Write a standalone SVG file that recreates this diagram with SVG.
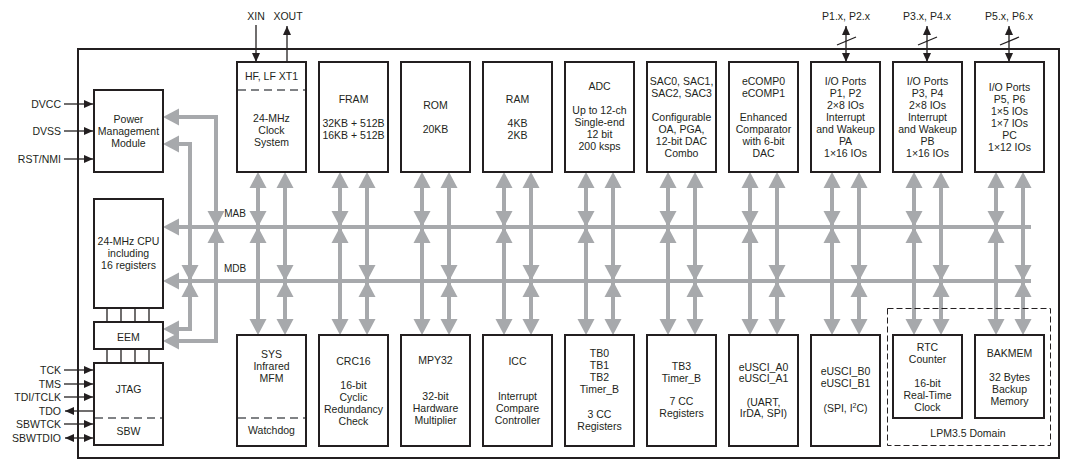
<svg xmlns="http://www.w3.org/2000/svg" xmlns:xlink="http://www.w3.org/1999/xlink" width="1071" height="468" viewBox="0 0 1071 468">
<style>
text{font-family:"Liberation Sans",Arial,sans-serif;font-size:10.5px;fill:#231f20;text-anchor:middle}
.lbl{text-anchor:end}
.box{fill:#fff;stroke:#231f20;stroke-width:2}
.gl{stroke:#a7a9ac;stroke-width:4;fill:none}
.ga{fill:#a7a9ac}
.bl{stroke:#231f20;stroke-width:1.3;fill:none}
.dash{stroke:#808285;stroke-width:2;stroke-dasharray:8 5;fill:none}
</style>
<defs>
<marker id="ab" viewBox="0 0 9 8" refX="9" refY="4" markerWidth="9" markerHeight="8" markerUnits="userSpaceOnUse" orient="auto-start-reverse"><path d="M0,0 L9,4 L0,8 z" fill="#231f20"/></marker>
<path id="u" class="ga" d="M0,0 L8.5,16 L-8.5,16 Z"/>
<path id="d" class="ga" d="M0,0 L8.5,-16 L-8.5,-16 Z"/>
<path id="l" class="ga" d="M0,0 L16,-8.5 L16,8.5 Z"/>
</defs>
<rect x="0" y="0" width="1071" height="468" fill="#fff"/>
<rect x="78" y="49" width="981" height="409" fill="none" stroke="#231f20" stroke-width="2"/>

<g id="connectors">
<!-- buses -->
<line class="gl" x1="175" y1="227" x2="1031" y2="227"/>
<line class="gl" x1="175" y1="281" x2="1031" y2="281"/>
<use href="#l" x="163" y="227"/>
<use href="#l" x="163" y="281"/>
<text x="235" y="217" style="font-size:10px">MAB</text>
<text x="235" y="272" style="font-size:10px">MDB</text>
<!-- left links -->
<path class="gl" d="M177,117 H216 V341 H177"/>
<path class="gl" d="M177,144 H190 V329 H177"/>
<use href="#l" x="163" y="117"/><use href="#l" x="163" y="144"/>
<use href="#l" x="163" y="329"/><use href="#l" x="163" y="341"/>
<use href="#d" x="216" y="227"/><use href="#u" x="216" y="227"/>
<use href="#d" x="190" y="281"/><use href="#u" x="190" y="281"/>
<!-- column verticals -->
<g class="gl">
<line x1="258" y1="180" x2="258" y2="327"/><line x1="285" y1="180" x2="285" y2="327"/>
<line x1="340" y1="180" x2="340" y2="327"/><line x1="367" y1="180" x2="367" y2="327"/>
<line x1="422" y1="180" x2="422" y2="327"/><line x1="449" y1="180" x2="449" y2="327"/>
<line x1="504" y1="180" x2="504" y2="327"/><line x1="531" y1="180" x2="531" y2="327"/>
<line x1="586" y1="180" x2="586" y2="327"/><line x1="613" y1="180" x2="613" y2="327"/>
<line x1="668" y1="180" x2="668" y2="327"/><line x1="695" y1="180" x2="695" y2="327"/>
<line x1="750" y1="180" x2="750" y2="327"/><line x1="777" y1="180" x2="777" y2="327"/>
<line x1="832" y1="180" x2="832" y2="327"/><line x1="859" y1="180" x2="859" y2="327"/>
<line x1="914" y1="180" x2="914" y2="327"/><line x1="941" y1="180" x2="941" y2="327"/>
<line x1="996" y1="180" x2="996" y2="327"/><line x1="1023" y1="180" x2="1023" y2="327"/>
</g>
<use href="#u" x="258" y="172"/><use href="#d" x="258" y="227"/><use href="#u" x="258" y="227"/><use href="#d" x="258" y="335"/>
<use href="#u" x="285" y="172"/><use href="#d" x="285" y="281"/><use href="#u" x="285" y="281"/><use href="#d" x="285" y="335"/>
<use href="#u" x="340" y="172"/><use href="#d" x="340" y="227"/><use href="#u" x="340" y="227"/><use href="#d" x="340" y="335"/>
<use href="#u" x="367" y="172"/><use href="#d" x="367" y="281"/><use href="#u" x="367" y="281"/><use href="#d" x="367" y="335"/>
<use href="#u" x="422" y="172"/><use href="#d" x="422" y="227"/><use href="#u" x="422" y="227"/><use href="#d" x="422" y="335"/>
<use href="#u" x="449" y="172"/><use href="#d" x="449" y="281"/><use href="#u" x="449" y="281"/><use href="#d" x="449" y="335"/>
<use href="#u" x="504" y="172"/><use href="#d" x="504" y="227"/><use href="#u" x="504" y="227"/><use href="#d" x="504" y="335"/>
<use href="#u" x="531" y="172"/><use href="#d" x="531" y="281"/><use href="#u" x="531" y="281"/><use href="#d" x="531" y="335"/>
<use href="#u" x="586" y="172"/><use href="#d" x="586" y="227"/><use href="#u" x="586" y="227"/><use href="#d" x="586" y="335"/>
<use href="#u" x="613" y="172"/><use href="#d" x="613" y="281"/><use href="#u" x="613" y="281"/><use href="#d" x="613" y="335"/>
<use href="#u" x="668" y="172"/><use href="#d" x="668" y="227"/><use href="#u" x="668" y="227"/><use href="#d" x="668" y="335"/>
<use href="#u" x="695" y="172"/><use href="#d" x="695" y="281"/><use href="#u" x="695" y="281"/><use href="#d" x="695" y="335"/>
<use href="#u" x="750" y="172"/><use href="#d" x="750" y="227"/><use href="#u" x="750" y="227"/><use href="#d" x="750" y="335"/>
<use href="#u" x="777" y="172"/><use href="#d" x="777" y="281"/><use href="#u" x="777" y="281"/><use href="#d" x="777" y="335"/>
<use href="#u" x="832" y="172"/><use href="#d" x="832" y="227"/><use href="#u" x="832" y="227"/><use href="#d" x="832" y="335"/>
<use href="#u" x="859" y="172"/><use href="#d" x="859" y="281"/><use href="#u" x="859" y="281"/><use href="#d" x="859" y="335"/>
<use href="#u" x="914" y="172"/><use href="#d" x="914" y="227"/><use href="#u" x="914" y="227"/><use href="#d" x="914" y="335"/>
<use href="#u" x="941" y="172"/><use href="#d" x="941" y="281"/><use href="#u" x="941" y="281"/><use href="#d" x="941" y="335"/>
<use href="#u" x="996" y="172"/><use href="#d" x="996" y="227"/><use href="#u" x="996" y="227"/><use href="#d" x="996" y="335"/>
<use href="#u" x="1023" y="172"/><use href="#d" x="1023" y="281"/><use href="#u" x="1023" y="281"/><use href="#d" x="1023" y="335"/>
<!-- black I/O arrows -->
<line class="bl" x1="64" y1="104" x2="93" y2="104" marker-end="url(#ab)"/>
<line class="bl" x1="64" y1="131" x2="93" y2="131" marker-end="url(#ab)"/>
<line class="bl" x1="64" y1="159" x2="93" y2="159" marker-end="url(#ab)"/>
<line class="bl" x1="64" y1="370" x2="93" y2="370" marker-end="url(#ab)"/>
<line class="bl" x1="64" y1="384" x2="93" y2="384" marker-end="url(#ab)"/>
<line class="bl" x1="64" y1="397" x2="93" y2="397" marker-end="url(#ab)"/>
<line class="bl" x1="93" y1="411" x2="65" y2="411" marker-end="url(#ab)"/>
<line class="bl" x1="64" y1="424" x2="93" y2="424" marker-end="url(#ab)"/>
<line class="bl" x1="65" y1="438" x2="93" y2="438" marker-start="url(#ab)" marker-end="url(#ab)"/>
<line class="bl" x1="256" y1="25" x2="256" y2="62" marker-end="url(#ab)"/>
<line class="bl" x1="287" y1="62" x2="287" y2="26" marker-end="url(#ab)"/>
<line class="bl" x1="846" y1="26" x2="846" y2="62" marker-start="url(#ab)" marker-end="url(#ab)"/>
<line class="bl" x1="927" y1="26" x2="927" y2="62" marker-start="url(#ab)" marker-end="url(#ab)"/>
<line class="bl" x1="1009" y1="26" x2="1009" y2="62" marker-start="url(#ab)" marker-end="url(#ab)"/>
<line class="bl" x1="837" y1="45" x2="856" y2="37"/>
<line class="bl" x1="918" y1="45" x2="937" y2="37"/>
<line class="bl" x1="1000" y1="45" x2="1019" y2="37"/>
<!-- CPU-EEM-JTAG links -->
<line class="bl" x1="107" y1="308" x2="107" y2="322"/><line class="bl" x1="121" y1="308" x2="121" y2="322"/>
<line class="bl" x1="135" y1="308" x2="135" y2="322"/><line class="bl" x1="149" y1="308" x2="149" y2="322"/>
<line class="bl" x1="107" y1="349" x2="107" y2="363"/><line class="bl" x1="121" y1="349" x2="121" y2="363"/>
<line class="bl" x1="135" y1="349" x2="135" y2="363"/><line class="bl" x1="149" y1="349" x2="149" y2="363"/>
</g>

<g id="pin-labels">
<text class="lbl" x="61" y="108">DVCC</text>
<text class="lbl" x="61" y="135">DVSS</text>
<text class="lbl" x="61" y="163">RST/NMI</text>
<text class="lbl" x="61" y="374">TCK</text>
<text class="lbl" x="61" y="388">TMS</text>
<text class="lbl" x="61" y="401">TDI/TCLK</text>
<text class="lbl" x="61" y="415">TDO</text>
<text class="lbl" x="61" y="428">SBWTCK</text>
<text class="lbl" x="61" y="442">SBWTDIO</text>
<text x="256" y="20">XIN</text>
<text x="288" y="20">XOUT</text>
<text x="846" y="20">P1.x, P2.x</text>
<text x="927" y="20">P3.x, P4.x</text>
<text x="1009" y="20">P5.x, P6.x</text>
</g>

<g id="pmm"><rect class="box" x="94" y="90" width="69" height="82"/>
<text x="128.5" y="123">Power</text><text x="128.5" y="135">Management</text><text x="128.5" y="147">Module</text></g>
<g id="cpu"><rect class="box" x="94" y="199" width="69" height="109"/>
<text x="128.5" y="245">24-MHz CPU</text><text x="128.5" y="257">including</text><text x="128.5" y="269">16 registers</text></g>
<g id="eem"><rect class="box" x="94" y="322" width="69" height="27"/>
<text x="128.5" y="340.5">EEM</text></g>
<g id="jtag"><rect class="box" x="94" y="363" width="69" height="82"/>
<line class="dash" x1="95" y1="418" x2="162" y2="418"/>
<text x="128.5" y="393">JTAG</text><text x="128.5" y="435">SBW</text></g>

<g id="clock"><rect class="box" x="237" y="62" width="69" height="110"/>
<line class="dash" x1="238" y1="90" x2="305" y2="90"/>
<text x="271.5" y="80">HF, LF XT1</text>
<text x="271.5" y="122">24-MHz</text><text x="271.5" y="134">Clock</text><text x="271.5" y="146">System</text></g>
<g id="fram"><rect class="box" x="319" y="62" width="69" height="110"/>
<text x="353.5" y="103">FRAM</text><text x="353.5" y="127">32KB + 512B</text><text x="353.5" y="139">16KB + 512B</text></g>
<g id="rom"><rect class="box" x="401" y="62" width="69" height="110"/>
<text x="435.5" y="109">ROM</text><text x="435.5" y="133">20KB</text></g>
<g id="ram"><rect class="box" x="483" y="62" width="69" height="110"/>
<text x="517.5" y="103">RAM</text><text x="517.5" y="127">4KB</text><text x="517.5" y="139">2KB</text></g>
<g id="adc"><rect class="box" x="565" y="62" width="69" height="110"/>
<text x="599.5" y="90">ADC</text><text x="599.5" y="114">Up to 12-ch</text><text x="599.5" y="126">Single-end</text><text x="599.5" y="138">12 bit</text><text x="599.5" y="150">200 ksps</text></g>
<g id="sac"><rect class="box" x="647" y="62" width="69" height="110"/>
<text x="681.5" y="85">SAC0, SAC1,</text><text x="681.5" y="97">SAC2, SAC3</text><text x="681.5" y="121">Configurable</text><text x="681.5" y="133">OA, PGA,</text><text x="681.5" y="145">12-bit DAC</text><text x="681.5" y="157">Combo</text></g>
<g id="ecomp"><rect class="box" x="729" y="62" width="69" height="110"/>
<text x="763.5" y="85">eCOMP0</text><text x="763.5" y="97">eCOMP1</text><text x="763.5" y="121">Enhanced</text><text x="763.5" y="133">Comparator</text><text x="763.5" y="145">with 6-bit</text><text x="763.5" y="157">DAC</text></g>
<g id="io12"><rect class="box" x="811" y="62" width="69" height="110"/>
<text x="845.5" y="85">I/O Ports</text><text x="845.5" y="97">P1, P2</text><text x="845.5" y="109">2×8 IOs</text><text x="845.5" y="121">Interrupt</text><text x="845.5" y="133">and Wakeup</text><text x="845.5" y="145">PA</text><text x="845.5" y="157">1×16 IOs</text></g>
<g id="io34"><rect class="box" x="893" y="62" width="69" height="110"/>
<text x="927.5" y="85">I/O Ports</text><text x="927.5" y="97">P3, P4</text><text x="927.5" y="109">2×8 IOs</text><text x="927.5" y="121">Interrupt</text><text x="927.5" y="133">and Wakeup</text><text x="927.5" y="145">PB</text><text x="927.5" y="157">1×16 IOs</text></g>
<g id="io56"><rect class="box" x="975" y="62" width="69" height="110"/>
<text x="1009.5" y="91">I/O Ports</text><text x="1009.5" y="103">P5, P6</text><text x="1009.5" y="115">1×5 IOs</text><text x="1009.5" y="127">1×7 IOs</text><text x="1009.5" y="139">PC</text><text x="1009.5" y="151">1×12 IOs</text></g>

<g id="sys"><rect class="box" x="237" y="335" width="69" height="111"/>
<line class="dash" x1="238" y1="418" x2="305" y2="418"/>
<text x="271.5" y="358">SYS</text><text x="271.5" y="370">Infrared</text><text x="271.5" y="382">MFM</text><text x="271.5" y="434">Watchdog</text></g>
<g id="crc16"><rect class="box" x="319" y="335" width="69" height="111"/>
<text x="353.5" y="365">CRC16</text><text x="353.5" y="389">16-bit</text><text x="353.5" y="401">Cyclic</text><text x="353.5" y="413">Redundancy</text><text x="353.5" y="425">Check</text></g>
<g id="mpy32"><rect class="box" x="401" y="335" width="69" height="111"/>
<text x="435.5" y="364">MPY32</text><text x="435.5" y="400">32-bit</text><text x="435.5" y="412">Hardware</text><text x="435.5" y="424">Multiplier</text></g>
<g id="icc"><rect class="box" x="483" y="335" width="69" height="111"/>
<text x="517.5" y="365">ICC</text><text x="517.5" y="400">Interrupt</text><text x="517.5" y="412">Compare</text><text x="517.5" y="424">Controller</text></g>
<g id="tb0"><rect class="box" x="565" y="335" width="69" height="111"/>
<text x="599.5" y="357">TB0</text><text x="599.5" y="369">TB1</text><text x="599.5" y="381">TB2</text><text x="599.5" y="393">Timer_B</text><text x="599.5" y="417.5">3 CC</text><text x="599.5" y="429.5">Registers</text></g>
<g id="tb3"><rect class="box" x="647" y="335" width="69" height="111"/>
<text x="681.5" y="369.5">TB3</text><text x="681.5" y="381.5">Timer_B</text><text x="681.5" y="405">7 CC</text><text x="681.5" y="417">Registers</text></g>
<g id="euscia"><rect class="box" x="729" y="335" width="69" height="111"/>
<text x="763.5" y="370.5">eUSCI_A0</text><text x="763.5" y="382">eUSCI_A1</text><text x="763.5" y="405.5">(UART,</text><text x="763.5" y="417">IrDA, SPI)</text></g>
<g id="euscib"><rect class="box" x="811" y="335" width="69" height="111"/>
<text x="845.5" y="375">eUSCI_B0</text><text x="845.5" y="387">eUSCI_B1</text><text x="845.5" y="412">(SPI, I<tspan dy="-4" style="font-size:7px">2</tspan><tspan dy="4">C)</tspan></text></g>
<g id="lpm35">
<rect x="887.5" y="308.5" width="163" height="137" fill="none" stroke="#231f20" stroke-width="1" stroke-dasharray="6 3"/>
<text x="968" y="437">LPM3.5 Domain</text>
</g>
<g id="rtc"><rect class="box" x="893" y="335" width="69" height="83"/>
<text x="927.5" y="351">RTC</text><text x="927.5" y="363">Counter</text><text x="927.5" y="387">16-bit</text><text x="927.5" y="399">Real-Time</text><text x="927.5" y="411">Clock</text></g>
<g id="bakmem"><rect class="box" x="975" y="335" width="69" height="83"/>
<text x="1009.5" y="356.5">BAKMEM</text><text x="1009.5" y="380.5">32 Bytes</text><text x="1009.5" y="392.5">Backup</text><text x="1009.5" y="404.5">Memory</text></g>
</svg>
